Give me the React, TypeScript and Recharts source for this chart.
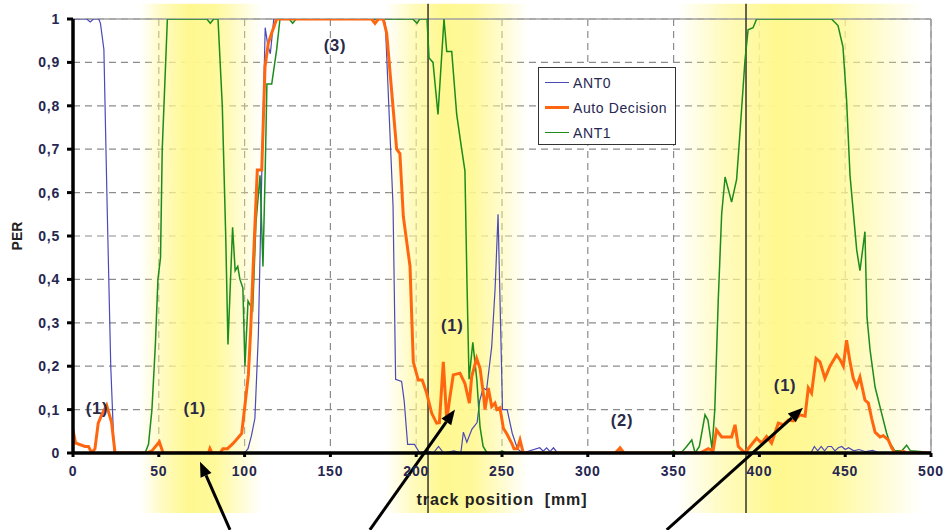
import React from 'react';
import {
  LineChart,
  Line,
  XAxis,
  YAxis,
  CartesianGrid,
  ReferenceArea,
  ReferenceLine,
  ReferenceDot,
  Legend,
} from 'recharts';

// axis ticks
const positionTicks = [0, 50, 100, 150, 200, 250, 300, 350, 400, 450, 500];
const perTicks = [0, 0.1, 0.2, 0.3, 0.4, 0.5, 0.6, 0.7, 0.8, 0.9, 1];

// ANT0 (blue)
const ant0Pos = [
  0, 8, 10, 12, 15, 16, 18, 20, 22, 24,
  100, 102, 104, 106, 108, 110, 112, 113.5, 115, 117,
  180, 182, 186.5, 188, 191.5, 193, 195, 199, 202, 206, 210, 213, 216, 222, 226,
  227.5, 229.5, 232.5, 235.5, 237, 239, 241, 244, 246, 247.7, 250.3, 253, 256, 259, 262,
  272, 274, 276, 278, 280, 282, 285, 316, 318, 320,
  430, 432, 434, 436, 438, 440, 442, 444, 446, 448, 450, 452, 455, 458, 462, 466, 470, 500,
];
const ant0Per = [
  1, 1, 0.993, 1, 1, 0.99, 0.93, 0.55, 0.2, 0,
  0, 0.01, 0.04, 0.08, 0.27, 0.64, 0.98, 0.94, 0.92, 1,
  1, 0.99, 0.57, 0.17, 0.165, 0.12, 0.02, 0.02, 0, 0.005, 0, 0.015, 0, 0.005, 0,
  0.048, 0.025, 0.055, 0.07, 0.12, 0.15, 0.145, 0.245, 0.38, 0.55, 0.1, 0.1, 0.045, 0.01, 0,
  0.012, 0.004, 0.012, 0.003, 0.012, 0.002, 0, 0, 0.006, 0,
  0, 0.015, 0.005, 0.015, 0.005, 0.015, 0.015, 0.005, 0.012, 0.015, 0.008, 0.012, 0.005, 0.008, 0.003, 0.006, 0, 0,
];

// Auto Decision (orange)
const autoPos = [
  0, 1.5, 7, 9, 11, 12.8, 14.7, 16.7, 19.6, 22.5, 24.5, 43, 46, 50.3, 52.5, 79, 79.8, 81,
  85.7, 87.4, 90, 93.3, 96.2, 98.3, 100.2, 102.2, 103.5, 105, 107.4, 110, 111.9, 113.8, 116, 118.7,
  174, 176, 178, 180.8, 182.8, 188.6, 190.5, 192.5, 196.4, 198.3, 201.2, 203.5, 206.1, 209,
  211.9, 213.5, 215.8, 217.8, 219.7, 221.6, 225.5, 228.4, 231, 232.3, 235.2, 237.2, 239.1, 240.1,
  242, 244, 245.9, 247, 248.8, 250.8, 252.7, 255.6, 257, 259, 260.5, 262.4, 316, 318.8, 321,
  365.4, 370.2, 373, 375, 378, 383.8, 385.8, 387.7, 391.6, 394.5, 398.4, 401.3, 404.2, 407.1,
  411, 413.9, 416.8, 419.8, 423.7, 426.6, 428.5, 430.4, 433, 435.3, 438.2, 441.1, 445, 447,
  448.9, 450.8, 452.8, 454.7, 456.7, 458.6, 461.5, 463.5, 465.4, 467.4, 470.3, 472.2, 475.1,
  477.1, 479, 484, 486, 500,
];
const autoPer = [
  0.053, 0.023, 0.015, 0.015, 0, 0.01, 0.069, 0.088, 0.11, 0.07, 0, 0, 0.005, 0.026, 0, 0, 0.01, 0,
  0, 0.01, 0.01, 0.022, 0.035, 0.045, 0.11, 0.18, 0.28, 0.43, 0.652, 0.652, 0.89, 0.944, 0.97, 1,
  1, 0.99, 1, 1, 0.967, 0.7, 0.69, 0.545, 0.43, 0.21, 0.168, 0.168, 0.138, 0.092,
  0.069, 0.07, 0.21, 0.076, 0.13, 0.18, 0.184, 0.16, 0.115, 0.175, 0.218, 0.195, 0.138, 0.1,
  0.15, 0.107, 0.115, 0.1, 0.104, 0.057, 0.045, 0.023, 0.01, 0.01, 0.03, 0, 0, 0.012, 0,
  0, 0.01, 0.005, 0.053, 0.037, 0.037, 0.065, 0.015, 0, 0.015, 0.034, 0.023, 0.038, 0.023,
  0.069, 0.065, 0.076, 0.074, 0.088, 0.085, 0.15, 0.138, 0.218, 0.21, 0.172, 0.2, 0.226, 0.215,
  0.2, 0.26, 0.21, 0.172, 0.153, 0.175, 0.122, 0.115, 0.08, 0.048, 0.037, 0.04, 0.03,
  0.012, 0, 0.004, 0, 0,
];

// ANT1 (green)
const ant1Pos = [
  0, 42, 44, 46, 48, 49.5, 51, 52, 55, 78, 80, 82, 84.5, 87, 89, 90.3, 93, 94.5, 96, 97.3, 99,
  100.2, 102, 104.7, 106.6, 109, 110.7, 112, 113, 115.8, 118.7, 120.6, 126, 128, 130,
  198, 200.5, 202, 206.3, 207.5, 209.8, 212.7, 216.2, 217.8, 220.7, 223.6, 226.5, 228.4, 229.6,
  230.8, 233, 235.3, 237.2, 239, 241.3, 248, 250, 252, 348, 350, 352, 355, 357.6, 360.6, 362.5,
  365, 368.3, 370, 372.4, 374, 376, 378, 380, 383.8, 386.7, 388, 391.6, 393.4, 396.3, 398.4,
  442, 445.8, 448.7, 450.8, 452.8, 456.7, 458.6, 461.5, 462.7, 464.5, 467.4, 471.2, 474.1, 476,
  479, 483, 485.8, 488, 495, 500,
];
const ant1Per = [
  0, 0, 0.02, 0.1, 0.25, 0.4, 0.45, 0.7, 1, 1, 0.99, 1, 1, 0.8, 0.5, 0.25, 0.52, 0.42, 0.43, 0.4, 0.38,
  0.2, 0.35, 0.33, 0.53, 0.64, 0.43, 0.65, 0.85, 0.85, 0.93, 1, 1, 0.99, 1,
  1, 0.99, 1, 1, 0.91, 0.9, 0.78, 1, 0.925, 0.925, 0.78, 0.7, 0.65, 0.39,
  0.17, 0.255, 0.17, 0.06, 0.015, 0, 0, 0.005, 0, 0, 0.005, 0, 0.003, 0.015, 0.03, 0,
  0.015, 0.088, 0.076, 0.01, 0.1, 0.35, 0.55, 0.636, 0.578, 0.63, 0.7, 0.905, 0.975, 0.98, 1,
  1, 0.985, 0.936, 0.813, 0.64, 0.468, 0.42, 0.51, 0.313, 0.237, 0.152, 0.092, 0.046, 0.023,
  0.005, 0.005, 0.018, 0.005, 0.003, 0,
];

// highlighted regions, marker lines, annotations (in data units)
const bandFrom = [39, 182, 352];
const bandTo = [110, 265, 495];
const markerPos = [206.9, 392.2];
const noteText = ['(1)', '(1)', '(3)', '(1)', '(2)', '(1)'];
const notePos = [14, 71, 152.7, 221, 320, 415];
const notePer = [0.104, 0.104, 0.94, 0.295, 0.076, 0.157];
const arrowFromPos = [91.5, 173, 346];
const arrowToPos = [74, 222.6, 425.4];
const arrowToPer = [-0.02, 0.1, 0.104];

const zip = (xs: number[], ys: number[]) => xs.map((x, i) => ({ x, y: ys[i] }));
const ant0Data = zip(ant0Pos, ant0Per);
const autoData = zip(autoPos, autoPer);
const ant1Data = zip(ant1Pos, ant1Per);

const FONT = '"Liberation Sans", Arial, sans-serif';
const NAVY = '#262650';

const series = [
  { name: 'ANT0', color: '#4a4ab8', width: 1.2 },
  { name: 'Auto Decision', color: '#ff6610', width: 3 },
  { name: 'ANT1', color: '#1c8c1c', width: 1.5 },
];

const fmtPer = (v: number) => (v === 0 || v === 1 ? String(v) : v.toFixed(1).replace('.', ','));

const Arrow = (p: any) => {
  const { x1, y1, x2, y2 } = p;
  const a = Math.atan2(y2 - y1, x2 - x1);
  const len = 15;
  const half = 6;
  const bx = x2 - len * Math.cos(a);
  const by = y2 - len * Math.sin(a);
  const pts = [
    [x2, y2],
    [bx + half * Math.sin(a), by - half * Math.cos(a)],
    [bx - half * Math.sin(a), by + half * Math.cos(a)],
  ]
    .map((q) => q.join(','))
    .join(' ');
  return (
    <g>
      <line x1={x1} y1={y1} x2={bx} y2={by} stroke="#000" strokeWidth={3} />
      <polygon points={pts} fill="#000" />
    </g>
  );
};

const LegendBox = () => (
  <div
    style={{
      width: 138,
      height: 78,
      boxSizing: 'border-box',
      border: '1.5px solid #333',
      background: '#fff',
      paddingTop: 2,
      fontFamily: FONT,
      fontSize: 14,
      letterSpacing: 0.6,
      color: NAVY,
    }}
  >
    {series.map((s) => (
      <div key={s.name} style={{ display: 'flex', alignItems: 'center', height: 25 }}>
        <div style={{ marginLeft: 6, width: 24, height: s.width, background: s.color }} />
        <span style={{ marginLeft: 4 }}>{s.name}</span>
      </div>
    ))}
  </div>
);

const tickStyle = { fill: NAVY, fontSize: 14, fontWeight: 'bold', fontFamily: FONT, letterSpacing: 0.8 };

export default function App() {
  return (
    <div style={{ width: 944, height: 530, background: '#fff', position: 'relative' }}>
      <style>{'body{margin:0}'}</style>
      <LineChart width={944} height={530} margin={{ top: 19, right: 13, left: 0, bottom: 0 }}>
        <defs>
          <linearGradient id="band" x1="0" y1="0" x2="1" y2="0">
            <stop offset="0" stopColor="#fff890" stopOpacity={0} />
            <stop offset="0.2" stopColor="#fff890" stopOpacity={0.6} />
            <stop offset="0.4" stopColor="#fff890" stopOpacity={1} />
            <stop offset="0.62" stopColor="#fff890" stopOpacity={0.9} />
            <stop offset="1" stopColor="#fff890" stopOpacity={0} />
          </linearGradient>
        </defs>
        {bandFrom.map((b, i) => (
          <ReferenceArea
            key={'band' + i}
            x1={b}
            x2={bandTo[i]}
            y1={-0.138}
            y2={1.035}
            ifOverflow="visible"
            fill="url(#band)"
            fillOpacity={1}
            stroke="none"
          />
        ))}
        <CartesianGrid strokeDasharray="7 5" stroke="#8c8c8c" strokeWidth={1.2} />
        <ReferenceLine y={1} stroke="#a0a0a0" strokeWidth={1.5} />
        <ReferenceLine x={500} stroke="#a0a0a0" strokeWidth={1.5} />
        {markerPos.map((m, i) => (
          <ReferenceLine
            key={'mk' + i}
            segment={[{ x: m, y: 1.035 }, { x: m, y: -0.138 }]}
            ifOverflow="visible"
            stroke="#333"
            strokeWidth={1.5}
          />
        ))}
        <XAxis
          dataKey="x"
          type="number"
          domain={[0, 500]}
          ticks={positionTicks}
          allowDataOverflow
          height={77}
          axisLine={{ stroke: '#000', strokeWidth: 3.5 }}
          tickLine={{ stroke: '#000', strokeWidth: 3 }}
          tickSize={4}
          tickMargin={9}
          tick={tickStyle}
          label={{
            value: 'track position\u00a0\u00a0[mm]',
            position: 'insideBottom',
            offset: 25,
            fill: '#222',
            fontSize: 16,
            fontWeight: 'bold',
            fontFamily: FONT,
            letterSpacing: 0.9,
          }}
        />
        <YAxis
          type="number"
          domain={[0, 1]}
          ticks={perTicks}
          allowDataOverflow
          width={73}
          axisLine={{ stroke: '#000', strokeWidth: 3.5 }}
          tickLine={{ stroke: '#000', strokeWidth: 3 }}
          tickSize={6}
          tickMargin={7}
          tickFormatter={fmtPer}
          tick={tickStyle}
          label={{
            value: 'PER',
            angle: -90,
            position: 'insideLeft',
            offset: 17,
            fill: '#222',
            fontSize: 14,
            fontWeight: 'bold',
            fontFamily: FONT,
            style: { textAnchor: 'middle' },
          }}
        />
        <Line
          data={ant0Data}
          dataKey="y"
          name="ANT0"
          type="linear"
          stroke={series[0].color}
          strokeWidth={series[0].width}
          dot={false}
          isAnimationActive={false}
        />
        <Line
          data={ant1Data}
          dataKey="y"
          name="ANT1"
          type="linear"
          stroke={series[2].color}
          strokeWidth={series[2].width}
          dot={false}
          isAnimationActive={false}
        />
        <Line
          data={autoData}
          dataKey="y"
          name="Auto Decision"
          type="linear"
          stroke={series[1].color}
          strokeWidth={series[1].width}
          dot={false}
          isAnimationActive={false}
        />
        {noteText.map((t, i) => (
          <ReferenceDot
            key={'note' + i}
            x={notePos[i]}
            y={notePer[i]}
            r={0}
            ifOverflow="visible"
            shape={(p: any) => (
              <text
                x={p.cx}
                y={p.cy}
                textAnchor="middle"
                dominantBaseline="central"
                fontFamily={FONT}
                fontSize={16.5}
                fontWeight="bold"
                letterSpacing={0.8}
                fill="#2a2a48"
              >
                {t}
              </text>
            )}
          />
        ))}
        {arrowFromPos.map((a, i) => (
          <ReferenceLine
            key={'arrow' + i}
            segment={[{ x: a, y: -0.177 }, { x: arrowToPos[i], y: arrowToPer[i] }]}
            ifOverflow="visible"
            stroke="#000"
            shape={Arrow}
          />
        ))}
        <Legend
          content={LegendBox}
          layout="horizontal"
          verticalAlign="middle"
          align="center"
          wrapperStyle={{ position: 'absolute', left: 538, top: 67, width: 138, height: 78 }}
        />
      </LineChart>
    </div>
  );
}
